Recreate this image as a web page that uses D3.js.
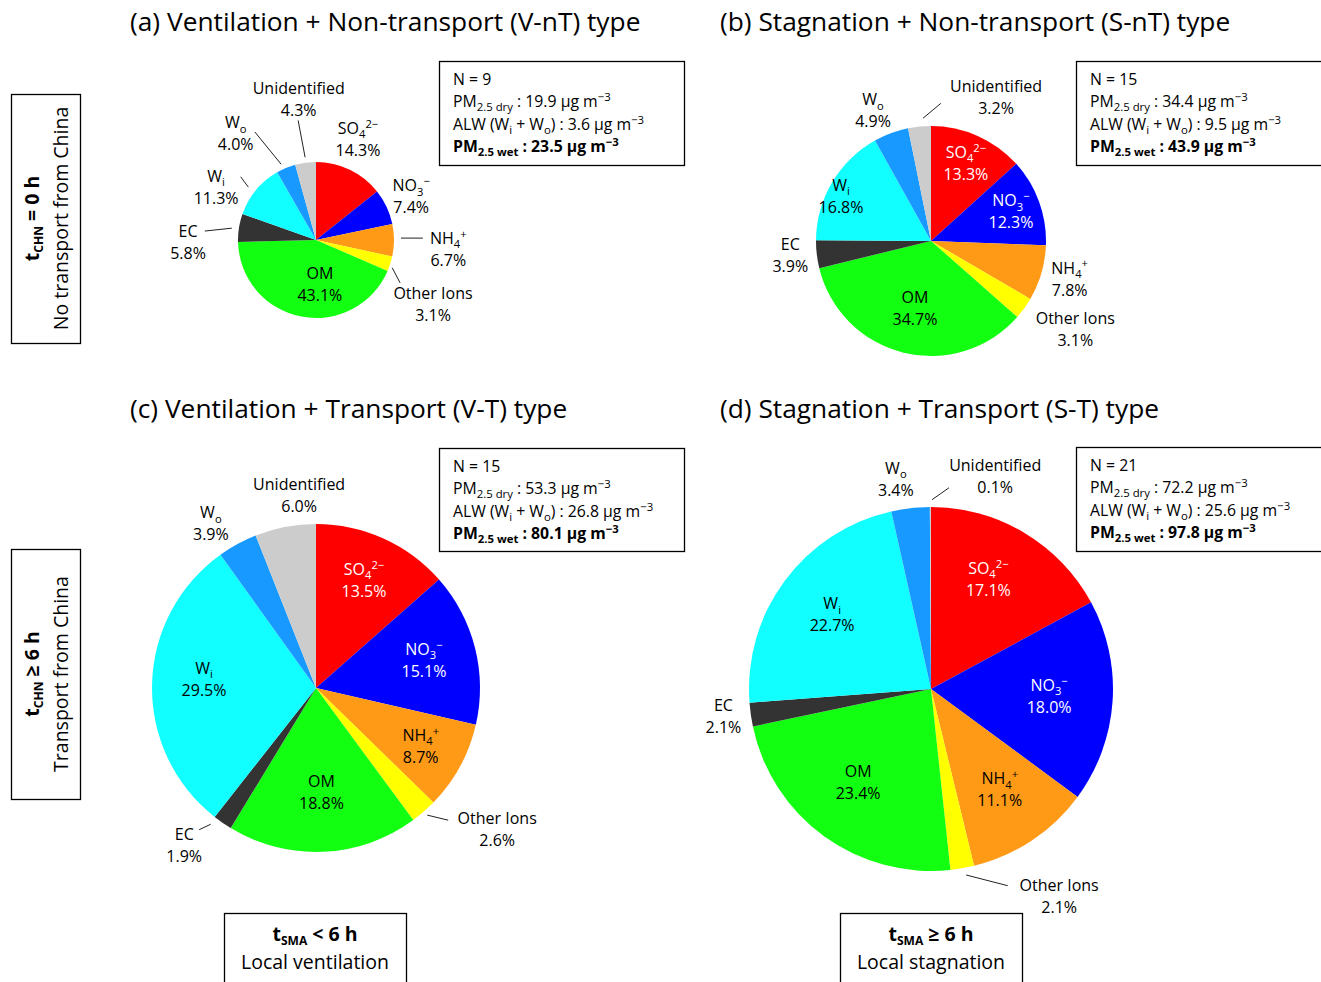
<!DOCTYPE html>
<html><head><meta charset="utf-8">
<script src="https://cdn.jsdelivr.net/npm/d3@7"></script>
<style>body{margin:0;background:#fff} svg{display:block;font-family:"Open Sans",Lato,sans-serif}</style>
</head><body><svg id="chart" width="1321" height="982"></svg>
<script>
// ---------- DATA ----------
const components = ["SO4", "NO3", "NH4", "Other Ions", "OM", "EC", "Wi", "Wo", "Unidentified"];
const componentColors = ["#ff0000", "#0000ff", "#ff9a17", "#ffff00", "#12ff12", "#333333", "#12ffff", "#1799ff", "#cccccc"];
const valuesA = [14.3, 7.4, 6.7, 3.1, 43.1, 5.8, 11.3, 4.0, 4.3];
const valuesB = [13.3, 12.3, 7.8, 3.1, 34.7, 3.9, 16.8, 4.9, 3.2];
const valuesC = [13.5, 15.1, 8.7, 2.6, 18.8, 1.9, 29.5, 3.9, 6.0];
const valuesD = [17.1, 18.0, 11.1, 2.1, 23.4, 2.1, 22.7, 3.4, 0.1];
const panelTitles = ["(a) Ventilation + Non-transport (V-nT) type", "(b) Stagnation + Non-transport (S-nT) type",
                     "(c) Ventilation + Transport (V-T) type", "(d) Stagnation + Transport (S-T) type"];
const nSamples = [9, 15, 15, 21];
const pmDry = [19.9, 34.4, 53.3, 72.2];
const alw = [3.6, 9.5, 26.8, 25.6];
const pmWet = [23.5, 43.9, 80.1, 97.8];

// rich-text names of components
const componentNames = [
  [["SO"], ["4", "sub"], ["2−", "sup"]],
  [["NO"], ["3", "sub"], ["−", "sup"]],
  [["NH"], ["4", "sub"], ["+", "sup"]],
  [["Other Ions"]],
  [["OM"]],
  [["EC"]],
  [["W"], ["i", "sub"]],
  [["W"], ["o", "sub"]],
  [["Unidentified"]]
];

// ---------- LAYOUT ----------
const W = "#ffffff", K = "#000000";
const panels = [
  { values: valuesA, cx: 316, cy: 240, r: 78, tx: 130, ty: 22, bx: 439, by: 61, bw: 245, bh: 104,
    labels: [[22.6,1.40],[65.6,1.34],[93.9,1.70],[118.7,1.71],[175,0.57],[269,1.64],[298,1.45],[323,1.71],[353,1.82]],
    colors: [K,K,K,K,K,K,K,K,K],
    leaders: [[352.5,1.07,351.5,1.55],[335.3,1.07,330.5,1.59],[308,1.1,310,1.26],[278,1.09,274.6,1.43],[88.7,1.09,89,1.37],[110,1.04,117,1.21]] },
  { values: valuesB, cx: 931, cy: 241, r: 115, tx: 720, ty: 22, bx: 1076, by: 61, bw: 250, bh: 104,
    labels: [[24.2,0.74],[70,0.74],[105.3,1.25],[121.4,1.47],[193.4,0.60],[264,1.23],[296.6,0.875],[336,1.24],[24.4,1.37]],
    colors: [W,W,K,K,K,K,K,K,K],
    leaders: [[356.3,1.07,4.1,1.2]] },
  { values: valuesC, cx: 316, cy: 688, r: 164, tx: 130, ty: 409, bx: 439, by: 448, bw: 245, bh: 103,
    labels: [[24,0.72],[75.5,0.68],[119,0.73],[127.9,1.40],[177,0.635],[220,1.25],[274.6,0.685],[327.4,1.19],[355,1.18]],
    colors: [W,W,K,K,K,K,K,K,K],
    leaders: [[138.8,1.03,135,1.14],[217.7,1.05,219.5,1.12]] },
  { values: valuesD, cx: 931, cy: 689, r: 182, tx: 720, ty: 409, bx: 1076, by: 447, bw: 250, bh: 104,
    labels: [[27.6,0.68],[93.4,0.65],[145.7,0.67],[148.3,1.34],[218,0.65],[262.6,1.15],[307,0.68],[350.5,1.17],[16.8,1.22]],
    colors: [W,W,K,K,K,K,K,K,K],
    leaders: [[0.3,1.04,5.1,1.11],[169.3,1.04,158.7,1.16]] }
];

const FS = { title: 26.3, label: 16, info: 15.8, side: 19.5 };
const svg = d3.select("#chart");

function rich(sel, segs, fs, scale = 0.68, subShift = 0.28) {
  let shift = 0;
  segs.forEach(([t, k]) => {
    const target = k === "sub" ? fs * subShift : k === "sup" ? -fs * 0.38 : 0;
    sel.append("tspan").attr("dy", target - shift).attr("font-size", k ? fs * scale : fs).text(t);
    shift = target;
  });
}
function polar(p, deg, f) {
  const a = deg * Math.PI / 180;
  return [p.cx + Math.sin(a) * p.r * f, p.cy - Math.cos(a) * p.r * f];
}

const pie = d3.pie().sort(null).value(d => d);

panels.forEach((p, pi) => {
  const g = svg.append("g");
  const arc = d3.arc().innerRadius(0).outerRadius(p.r);
  g.append("g").attr("transform", `translate(${p.cx},${p.cy})`)
    .selectAll("path.slice").data(pie(p.values)).join("path")
    .attr("class", "slice")
    .attr("d", arc)
    .attr("fill", (d, i) => componentColors[i]);

  // title
  svg.append("text").attr("x", p.tx).attr("y", p.ty + 9).attr("font-size", FS.title).attr("fill", "#000")
    .text(panelTitles[pi]);

  // slice labels
  const lf = FS.label;
  p.values.forEach((v, i) => {
    const [x, y] = polar(p, p.labels[i][0], p.labels[i][1]);
    const t1 = g.append("text").attr("x", x).attr("y", y - 11 + lf * 0.35)
      .attr("text-anchor", "middle").attr("fill", p.colors[i]).attr("font-size", lf);
    rich(t1, componentNames[i], lf, 0.7);
    g.append("text").attr("x", x).attr("y", y + 11 + lf * 0.35)
      .attr("text-anchor", "middle").attr("fill", p.colors[i]).attr("font-size", lf)
      .text(v.toFixed(1) + "%");
  });

  // leader lines
  p.leaders.forEach(l => {
    const [x1, y1] = polar(p, l[0], l[1]);
    const [x2, y2] = polar(p, l[2], l[3]);
    g.append("line").attr("x1", x1).attr("y1", y1).attr("x2", x2).attr("y2", y2)
      .attr("stroke", "#222").attr("stroke-width", 1);
  });

  // info box
  svg.append("rect").attr("x", p.bx + 0.5).attr("y", p.by + 0.5).attr("width", p.bw).attr("height", p.bh)
    .attr("fill", "#fff").attr("stroke", "#000").attr("stroke-width", 1.3);
  const fs = FS.info, lx = p.bx + 14, ly0 = p.by + 18;
  const lines = [
    [["N = " + nSamples[pi]]],
    [["PM"], ["2.5 dry", "sub"], [" : " + pmDry[pi].toFixed(1) + " µg m"], ["−3", "sup"]],
    [["ALW (W"], ["i", "sub"], [" + W"], ["o", "sub"], [") : " + alw[pi].toFixed(1) + " µg m"], ["−3", "sup"]],
    [["PM"], ["2.5 wet", "sub"], [" : " + pmWet[pi].toFixed(1) + " µg m"], ["−3", "sup"]]
  ];
  lines.forEach((segs, li) => {
    const t = svg.append("text").attr("x", lx).attr("y", ly0 + li * 22.5 + fs * 0.35)
      .attr("font-size", fs).attr("fill", "#000").attr("font-weight", li === 3 ? "bold" : "normal");
    rich(t, segs, fs, 0.72);
  });
});

// side boxes (rows)
const rowBoxes = [
  { x: 11, y: 94, w: 69, h: 249, l1: [["t"], ["CHN", "sub"], [" = 0 h"]], l2: "No transport from China" },
  { x: 11, y: 549, w: 69, h: 250, l1: [["t"], ["CHN", "sub"], [" ≥ 6 h"]], l2: "Transport from China" }
];
rowBoxes.forEach(b => {
  svg.append("rect").attr("x", b.x + 0.5).attr("y", b.y + 0.5).attr("width", b.w).attr("height", b.h)
    .attr("fill", "none").attr("stroke", "#000").attr("stroke-width", 1.3);
  const cy = b.y + b.h / 2, fs = FS.side;
  const t1 = svg.append("text").attr("transform", `translate(${b.x + 21 + fs * 0.35},${cy}) rotate(-90)`)
    .attr("text-anchor", "middle").attr("font-weight", "bold").attr("font-size", fs);
  rich(t1, b.l1, fs, 0.62, 0.2);
  svg.append("text").attr("transform", `translate(${b.x + 50 + fs * 0.35},${cy}) rotate(-90)`)
    .attr("text-anchor", "middle").attr("font-size", fs).text(b.l2);
});

// bottom boxes (columns)
const colBoxes = [
  { x: 224, y: 913, w: 182, h: 90, l1: [["t"], ["SMA", "sub"], [" < 6 h"]], l2: "Local ventilation" },
  { x: 840, y: 913, w: 182, h: 90, l1: [["t"], ["SMA", "sub"], [" ≥ 6 h"]], l2: "Local stagnation" }
];
colBoxes.forEach(b => {
  svg.append("rect").attr("x", b.x + 0.5).attr("y", b.y + 0.5).attr("width", b.w).attr("height", b.h)
    .attr("fill", "none").attr("stroke", "#000").attr("stroke-width", 1.3);
  const cx = b.x + b.w / 2, fs = FS.side;
  const t1 = svg.append("text").attr("x", cx).attr("y", b.y + 21 + fs * 0.35)
    .attr("text-anchor", "middle").attr("font-weight", "bold").attr("font-size", fs);
  rich(t1, b.l1, fs, 0.62, 0.2);
  svg.append("text").attr("x", cx).attr("y", b.y + 49 + fs * 0.35)
    .attr("text-anchor", "middle").attr("font-size", fs).text(b.l2);
});
</script></body></html>
